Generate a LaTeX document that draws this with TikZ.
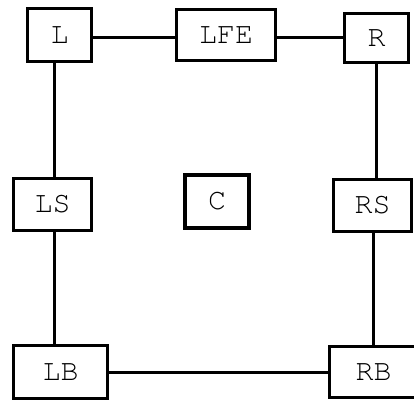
\documentclass[tikz,border=0pt]{standalone}
\usepackage{fontspec}
\newfontfamily\boxfont{texgyrecursor-regular.otf}
\begin{document}
\begin{tikzpicture}[x=1pt,y=-1pt,
  box/.style={draw,line width=3pt,inner sep=0pt,fill=white,
    font=\boxfont\fontsize{30}{30}\selectfont},
  link/.style={line width=3pt}]
\useasboundingbox (0,0) rectangle (414,401);
\clip (0,0) rectangle (414,401);
\coordinate (lx) at (54,0);
% connectors first, nodes drawn after (on top)
\node[box,minimum width=64pt,minimum height=53pt] (L) at (59.5,35) {L};
\node[box,minimum width=99pt,minimum height=51pt] (LFE) at (226,35) {LFE};
\node[box,minimum width=64pt,minimum height=49pt] (R) at (376.5,38) {R};
\node[box,minimum width=78pt,minimum height=52pt] (LS) at (52.5,204.5) {LS};
\node[box,line width=4pt,minimum width=64pt,minimum height=53pt] (C) at (217,201.5) {C};
\node[box,minimum width=78pt,minimum height=52pt] (RS) at (372.5,205.5) {RS};
\node[box,minimum width=94pt,minimum height=53pt] (LB) at (60.5,372) {LB};
\node[box,minimum width=89pt,minimum height=51pt] (RB) at (373.5,372) {RB};
\draw[link] (L.east |- R.west) -- (LFE.west |- R.west);
\draw[link] (LFE.east |- R.west) -- (R.west);
\draw[link] (lx |- L.south) -- (lx |- LS.north);
\draw[link] (lx |- LS.south) -- (lx |- LB.north);
\draw[link] (LB.east) -- (RB.west);
\draw[link] (R.south) -- (R.south |- RS.north);
\draw[link] (RS.south -| RB.north) -- (RB.north);
\end{tikzpicture}
\end{document}
